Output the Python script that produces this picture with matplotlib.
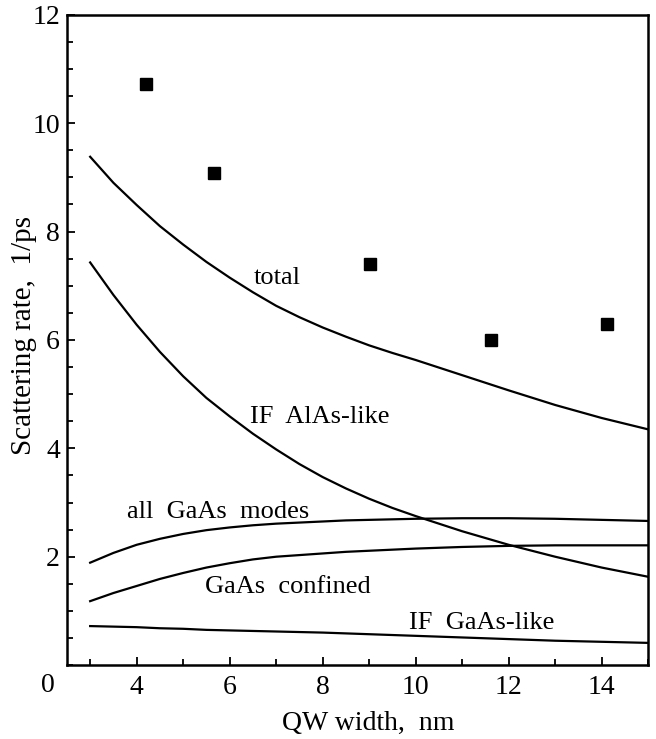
import matplotlib.pyplot as plt
from matplotlib.ticker import MultipleLocator

plt.rcParams['font.family'] = ['Liberation Serif', 'DejaVu Serif']

width = [3, 3.5, 4, 4.5, 5, 5.5, 6, 6.5, 7, 7.5, 8, 8.5, 9, 9.5, 10,
         11, 12, 13, 14, 15]
total = [9.38, 8.9, 8.49, 8.1, 7.76, 7.44, 7.15, 6.88, 6.63, 6.42, 6.23,
         6.06, 5.9, 5.76, 5.63, 5.35, 5.07, 4.8, 4.56, 4.35]
if_alas = [7.43, 6.83, 6.28, 5.78, 5.33, 4.93, 4.59, 4.27, 3.98, 3.71, 3.47,
           3.26, 3.07, 2.9, 2.75, 2.47, 2.22, 2.0, 1.8, 1.63]
all_gaas = [1.89, 2.07, 2.22, 2.33, 2.42, 2.49, 2.54, 2.58, 2.61, 2.63, 2.65,
            2.67, 2.68, 2.69, 2.70, 2.71, 2.71, 2.70, 2.68, 2.66]
gaas_conf = [1.18, 1.33, 1.46, 1.59, 1.70, 1.80, 1.88, 1.95, 2.00, 2.03, 2.06,
             2.09, 2.11, 2.13, 2.15, 2.18, 2.20, 2.21, 2.21, 2.21]
if_gaas = [0.72, 0.71, 0.70, 0.68, 0.67, 0.65, 0.64, 0.63, 0.62, 0.61, 0.60,
           0.585, 0.57, 0.555, 0.54, 0.51, 0.48, 0.45, 0.43, 0.41]

exp_width = [4.21, 5.67, 9.02, 11.62, 14.11]
exp_rate = [10.72, 9.08, 7.40, 5.99, 6.29]

fig = plt.figure(figsize=(6.56, 7.39), dpi=100)
ax = fig.add_axes([0.102, 0.100, 0.886, 0.880])

for y in [total, if_alas, all_gaas, gaas_conf, if_gaas]:
    ax.plot(width, y, color='black', lw=1.6)
ax.plot(exp_width, exp_rate, 's', color='black', ms=8.5)

# curve labels, left edge / baseline
ax.text(6.51, 7.04, 'total', fontsize=19)
ax.text(6.43, 4.46, 'IF  AlAs-like', fontsize=19)
ax.text(3.79, 2.72, 'all  GaAs  modes', fontsize=19)
ax.text(5.46, 1.33, 'GaAs  confined', fontsize=19)
ax.text(9.86, 0.67, 'IF  GaAs-like', fontsize=19)

ax.set_xlim(2.5, 15)
ax.set_ylim(0, 12)
ax.set_xticks([4, 6, 8, 10, 12, 14])
ax.set_yticks([2, 4, 6, 8, 10, 12])
ax.xaxis.set_minor_locator(MultipleLocator(1))
ax.yaxis.set_minor_locator(MultipleLocator(0.5))
ax.tick_params(which='both', direction='in', labelsize=20, width=1.3)
ax.tick_params(which='major', length=6)
ax.tick_params(which='minor', length=4)
ax.tick_params(axis='x', pad=7)
ax.tick_params(axis='y', pad=5)
ax.text(2.08, -0.38, '0', fontsize=20, ha='center', va='center', clip_on=False)
for s in ax.spines.values():
    s.set_linewidth(1.8)

ax.set_xlabel('QW width,  nm', fontsize=20)
ax.set_ylabel('Scattering rate,  1/ps', fontsize=21)
ax.xaxis.set_label_coords(0.518, -0.071)
ax.yaxis.set_label_coords(-0.052, 0.507)

fig.savefig('out.png', dpi=100)
